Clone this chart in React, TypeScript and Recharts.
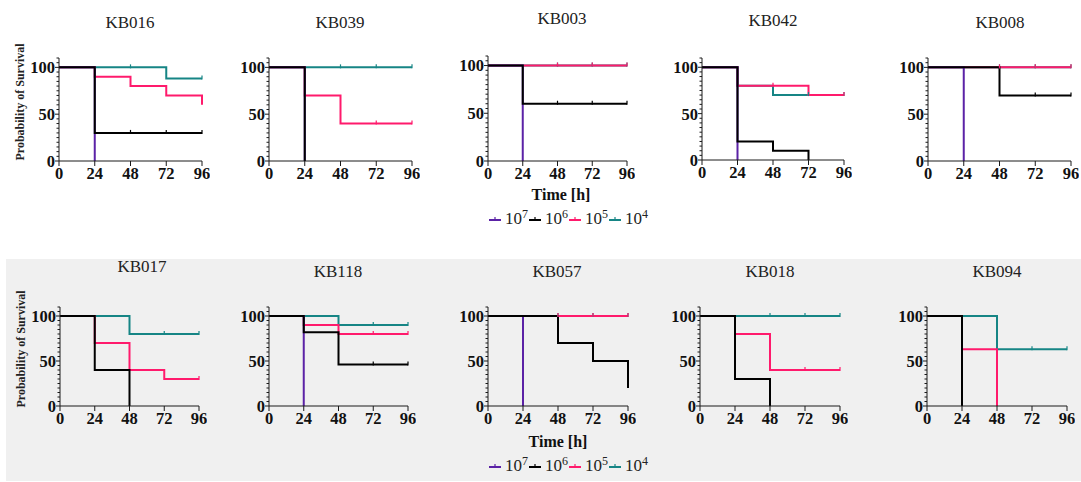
import React from "react";
import { LineChart, Line, XAxis, YAxis } from "recharts";

// time points (h) and axis ticks
const times = [0, 24, 48, 72, 96];
const xTicks = [0, 24, 48, 72, 96];
const yTicks = [0, 5, 10, 15, 20, 25, 30, 35, 40, 45, 50, 55, 60, 65, 70, 75, 80, 85, 90, 95, 100, 105, 110];
const yLabels = [0, 50, 100];
const doseKeys = ["d7", "d6", "d5", "d4"];
const doseExp = ["7", "6", "5", "4"];

type S = (number | null)[];

// survival (%) per dose at each time point
const kb016_d7: S = [100, 0, null, null, null];
const kb016_d6: S = [100, 30, 30, 30, 30];
const kb016_d5: S = [100, 90, 80, 70, 60];
const kb016_d4: S = [100, 100, 100, 88, 88];

const kb039_d7: S = [100, 0, null, null, null];
const kb039_d6: S = [100, 0, null, null, null];
const kb039_d5: S = [100, 70, 40, 40, 40];
const kb039_d4: S = [100, 100, 100, 100, 100];

const kb003_d7: S = [100, 0, null, null, null];
const kb003_d6: S = [100, 60, 60, 60, 60];
const kb003_d5: S = [100, 100, 100, 100, 100];
const kb003_d4: S = [100, 100, 100, 100, 100];

const kb042_d7: S = [100, 0, null, null, null];
const kb042_d6: S = [100, 20, 10, 0, null];
const kb042_d5: S = [100, 80, 80, 70, 70];
const kb042_d4: S = [100, 80, 70, 70, 70];

const kb008_d7: S = [100, 0, null, null, null];
const kb008_d6: S = [100, 100, 70, 70, 70];
const kb008_d5: S = [100, 100, 100, 100, 100];
const kb008_d4: S = [100, 100, 100, 100, 100];

const kb017_d6: S = [100, 40, 0, null, null];
const kb017_d5: S = [100, 70, 40, 30, 30];
const kb017_d4: S = [100, 100, 80, 80, 80];

const kb118_d7: S = [100, 0, null, null, null];
const kb118_d6: S = [100, 82, 46, 46, 46];
const kb118_d5: S = [100, 90, 80, 80, 80];
const kb118_d4: S = [100, 100, 90, 90, 90];

const kb057_d7: S = [100, 0, null, null, null];
const kb057_d6: S = [100, 100, 70, 50, 20];
const kb057_d5: S = [100, 100, 100, 100, 100];
const kb057_d4: S = [100, 100, 100, 100, 100];

const kb018_d6: S = [100, 30, 0, null, null];
const kb018_d5: S = [100, 80, 40, 40, 40];
const kb018_d4: S = [100, 100, 100, 100, 100];

const kb094_d6: S = [100, 0, null, null, null];
const kb094_d5: S = [100, 63, 0, null, null];
const kb094_d4: S = [100, 100, 63, 63, 63];

const colors: Record<string, string> = {
  d7: "#5b22a6",
  d6: "#000000",
  d5: "#ff1a6c",
  d4: "#168585",
};
// draw order: teal, pink, purple, black on top
const drawOrder = ["d4", "d5", "d7", "d6"];

interface Panel {
  name: string;
  series: Record<string, S | undefined>;
  axisX: number;
  endX: number;
  top: number;
  bottom: number;
  titleX: number;
  titleY: number;
}

const panels: Panel[] = [
  { name: "KB016", series: { d7: kb016_d7, d6: kb016_d6, d5: kb016_d5, d4: kb016_d4 }, axisX: 59, endX: 202, top: 58, bottom: 161, titleX: 130, titleY: 23 },
  { name: "KB039", series: { d7: kb039_d7, d6: kb039_d6, d5: kb039_d5, d4: kb039_d4 }, axisX: 269, endX: 412, top: 58, bottom: 161, titleX: 340, titleY: 23 },
  { name: "KB003", series: { d7: kb003_d7, d6: kb003_d6, d5: kb003_d5, d4: kb003_d4 }, axisX: 488, endX: 627, top: 56, bottom: 161, titleX: 562, titleY: 19 },
  { name: "KB042", series: { d7: kb042_d7, d6: kb042_d6, d5: kb042_d5, d4: kb042_d4 }, axisX: 702, endX: 844, top: 58, bottom: 160, titleX: 773, titleY: 21 },
  { name: "KB008", series: { d7: kb008_d7, d6: kb008_d6, d5: kb008_d5, d4: kb008_d4 }, axisX: 928, endX: 1071, top: 58, bottom: 161, titleX: 1000, titleY: 23 },
  { name: "KB017", series: { d6: kb017_d6, d5: kb017_d5, d4: kb017_d4 }, axisX: 60, endX: 199, top: 307, bottom: 406, titleX: 142, titleY: 267 },
  { name: "KB118", series: { d7: kb118_d7, d6: kb118_d6, d5: kb118_d5, d4: kb118_d4 }, axisX: 269, endX: 408, top: 307, bottom: 406, titleX: 338, titleY: 272 },
  { name: "KB057", series: { d7: kb057_d7, d6: kb057_d6, d5: kb057_d5, d4: kb057_d4 }, axisX: 488, endX: 628, top: 307, bottom: 406, titleX: 557, titleY: 272 },
  { name: "KB018", series: { d6: kb018_d6, d5: kb018_d5, d4: kb018_d4 }, axisX: 700, endX: 840, top: 307, bottom: 406, titleX: 770, titleY: 272 },
  { name: "KB094", series: { d6: kb094_d6, d5: kb094_d5, d4: kb094_d4 }, axisX: 927, endX: 1067, top: 307, bottom: 406, titleX: 997, titleY: 272 },
];

const FONT = '"Liberation Serif", "DejaVu Serif", serif';
const AXIS = "#1a1a1a";
const Y_W = 40;
const X_H = 30;
const PAD_T = 5;
const PAD_R = 8;

function YTick(props: any) {
  const { x, y, payload } = props;
  const v = payload.value;
  const major = yLabels.includes(v);
  return (
    <g>
      <line x1={x} x2={x - (major ? 4 : 2.5)} y1={y} y2={y} stroke={AXIS} strokeWidth={1} />
      {major && (
        <text x={x - 4} y={y} dy="0.36em" textAnchor="end" fontFamily={FONT} fontWeight={700} fontSize={16.5} fill="#111">
          {v}
        </text>
      )}
    </g>
  );
}

function makeDot(values: S, color: string) {
  return (p: any) => {
    const i = p.index;
    const key = `dot-${i}`;
    if (i < 2 || values[i] == null || values[i] !== values[i - 1] || p.cx == null || p.cy == null) {
      return <g key={key} />;
    }
    return <line key={key} x1={p.cx} x2={p.cx} y1={p.cy - 3} y2={p.cy + 1} stroke={color} strokeWidth={1.2} />;
  };
}

function SurvivalPanel({ p }: { p: Panel }) {
  const data = times.map((t, i) => {
    const row: Record<string, number | null> = { t };
    doseKeys.forEach((k) => {
      const s = p.series[k];
      row[k] = s ? s[i] : null;
    });
    return row;
  });
  const w = Y_W + (p.endX - p.axisX) + PAD_R;
  const h = PAD_T + (p.bottom - p.top) + X_H;
  return (
    <>
      <div
        style={{
          position: "absolute",
          left: p.titleX - 50,
          top: p.titleY - 11,
          width: 100,
          textAlign: "center",
          fontFamily: FONT,
          fontSize: 17,
          lineHeight: "22px",
          color: "#222",
        }}
      >
        {p.name}
      </div>
      <div style={{ position: "absolute", left: p.axisX - Y_W, top: p.top - PAD_T }}>
        <LineChart width={w} height={h} data={data} margin={{ top: PAD_T, right: PAD_R, bottom: 0, left: 0 }}>
          <XAxis
            dataKey="t"
            type="number"
            domain={[0, 96]}
            ticks={xTicks}
            interval={0}
            height={X_H}
            tickSize={5}
            tickMargin={1}
            stroke={AXIS}
            tick={{ fontFamily: FONT, fontWeight: 700, fontSize: 16.5, fill: "#111" }}
          />
          <YAxis
            type="number"
            domain={[0, 110]}
            ticks={yTicks}
            interval={0}
            width={Y_W}
            tickSize={0}
            tickMargin={0}
            tickLine={false}
            stroke={AXIS}
            tick={<YTick />}
          />
          {drawOrder
            .filter((k) => p.series[k])
            .map((k) => (
              <Line
                key={k}
                dataKey={k}
                type="stepAfter"
                stroke={colors[k]}
                strokeWidth={2}
                dot={makeDot(p.series[k] as S, colors[k])}
                activeDot={false}
                connectNulls={false}
                isAnimationActive={false}
              />
            ))}
        </LineChart>
      </div>
    </>
  );
}

function Legend({ left, top }: { left: number; top: number }) {
  return (
    <div
      style={{
        position: "absolute",
        left,
        top,
        display: "flex",
        alignItems: "center",
        fontFamily: FONT,
        fontSize: 17,
        color: "#222",
        whiteSpace: "nowrap",
      }}
    >
      {doseKeys.map((k, i) => (
        <span key={k} style={{ display: "inline-flex", alignItems: "center", marginRight: 0 }}>
          <svg width={14} height={10} style={{ marginRight: 3 }}>
            <line x1={1} x2={13} y1={6} y2={6} stroke={colors[k]} strokeWidth={2} />
            <line x1={7} x2={7} y1={3} y2={7} stroke={colors[k]} strokeWidth={1.2} />
          </svg>
          <span>
            10<sup style={{ fontSize: 12, verticalAlign: "6px", lineHeight: 0 }}>{doseExp[i]}</sup>
          </span>
        </span>
      ))}
    </div>
  );
}

function YTitle({ cx, cy }: { cx: number; cy: number }) {
  return (
    <div
      style={{
        position: "absolute",
        left: cx - 80,
        top: cy - 8,
        width: 160,
        height: 16,
        textAlign: "center",
        transform: "rotate(-90deg)",
        fontFamily: FONT,
        fontWeight: 700,
        fontSize: 12,
        lineHeight: "16px",
        color: "#222",
      }}
    >
      Probability of Survival
    </div>
  );
}

function XTitle({ cx, cy }: { cx: number; cy: number }) {
  return (
    <div
      style={{
        position: "absolute",
        left: cx - 60,
        top: cy - 10,
        width: 120,
        textAlign: "center",
        fontFamily: FONT,
        fontWeight: 700,
        fontSize: 16,
        lineHeight: "20px",
        color: "#111",
      }}
    >
      Time [h]
    </div>
  );
}

export default function App() {
  return (
    <div style={{ position: "absolute", left: 0, top: 0, width: 1081, height: 482, background: "#fff", overflow: "hidden" }}>
      <div style={{ position: "absolute", left: 6, top: 259, width: 1075, height: 222, background: "#f0f0f0" }} />
      {panels.map((p) => (
        <SurvivalPanel key={p.name} p={p} />
      ))}
      <YTitle cx={20} cy={102} />
      <YTitle cx={21} cy={349} />
      <XTitle cx={561} cy={195} />
      <XTitle cx={558} cy={442} />
      <Legend left={488} top={209} />
      <Legend left={488} top={456} />
    </div>
  );
}
